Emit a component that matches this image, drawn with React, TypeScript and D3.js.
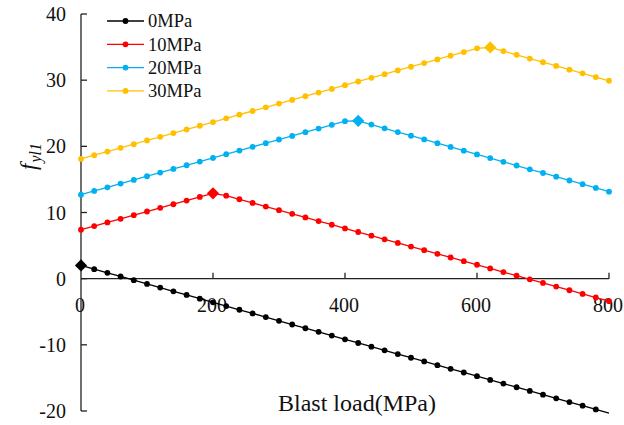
import React from "react";
import * as d3 from "d3";

// Blast load sampled every 20 MPa from 0 to 800
const blastLoad: number[] = d3.range(0, 801, 20);

const series0MPa: number[] = [
  2.0, 1.44, 0.88, 0.33, -0.23, -0.79, -1.35, -1.91, -2.46, -3.02,
  -3.58, -4.14, -4.7, -5.25, -5.81, -6.37, -6.93, -7.49, -8.04, -8.6,
  -9.16, -9.72, -10.28, -10.83, -11.39, -11.95, -12.51, -13.07, -13.62, -14.18,
  -14.74, -15.3, -15.86, -16.41, -16.97, -17.53, -18.09, -18.65, -19.2, -19.76,
  -20.32,
];

const series10MPa: number[] = [
  7.4, 7.95, 8.5, 9.05, 9.6, 10.15, 10.7, 11.25, 11.8, 12.35,
  12.9, 12.55, 12.0, 11.45, 10.9, 10.35, 9.8, 9.25, 8.7, 8.15,
  7.6, 7.05, 6.5, 5.95, 5.4, 4.85, 4.3, 3.75, 3.2, 2.65,
  2.1, 1.55, 1.0, 0.45, -0.1, -0.65, -1.2, -1.75, -2.3, -2.85,
  -3.4,
];

const series20MPa: number[] = [
  12.7, 13.26, 13.81, 14.37, 14.92, 15.48, 16.03, 16.59, 17.14, 17.7,
  18.25, 18.81, 19.36, 19.92, 20.47, 21.03, 21.58, 22.14, 22.69, 23.25,
  23.8, 23.85, 23.29, 22.72, 22.16, 21.6, 21.04, 20.47, 19.91, 19.35,
  18.78, 18.22, 17.66, 17.1, 16.53, 15.97, 15.41, 14.84, 14.28, 13.72,
  13.15,
];

const series30MPa: number[] = [
  18.1, 18.66, 19.21, 19.77, 20.33, 20.89, 21.44, 22.0, 22.56, 23.11,
  23.67, 24.23, 24.78, 25.34, 25.9, 26.46, 27.01, 27.57, 28.13, 28.68,
  29.24, 29.8, 30.35, 30.91, 31.47, 32.03, 32.58, 33.14, 33.7, 34.25,
  34.81, 34.95, 34.39, 33.83, 33.27, 32.71, 32.15, 31.59, 31.03, 30.47,
  29.91,
];

const seriesNames: string[] = ["0MPa", "10MPa", "20MPa", "30MPa"];
const seriesValues: number[][] = [series0MPa, series10MPa, series20MPa, series30MPa];
const seriesColors: string[] = ["#000000", "#FF0000", "#00B0F0", "#FFC000"];

const xTicks: number[] = [0, 200, 400, 600, 800];
const yTicks: number[] = [-20, -10, 0, 10, 20, 30, 40];

const W = 624;
const H = 425;
const txt = { fontFamily: "Liberation Serif" };

export default function App() {
  const x = d3.scaleLinear().domain([0, 800]).range([81, 609]);
  const y = d3.scaleLinear().domain([-20, 40]).range([411, 14]);

  const line = d3
    .line<[number, number]>()
    .x((d) => x(d[0]))
    .y((d) => y(d[1]));

  const diamond = d3.symbol().type(d3.symbolDiamond2).size(95)();

  return (
    <svg
      width={W}
      height={H}
      style={{ position: "absolute", left: 0, top: 0, background: "#fff" }}
    >
      {/* y axis */}
      <line x1={x(0)} x2={x(0)} y1={y(40)} y2={y(-20)} stroke="#222" strokeWidth={1.3} />
      {yTicks.map((t) => (
        <g key={"y" + t}>
          <line x1={x(0)} x2={x(0) + 6} y1={y(t)} y2={y(t)} stroke="#222" strokeWidth={1.3} />
          <text x={66} y={y(t)} dy="0.35em" textAnchor="end" fontSize={20} fill="#111" style={txt}>
            {t}
          </text>
        </g>
      ))}

      {/* x axis through zero */}
      <line x1={x(0)} x2={x(800)} y1={y(0)} y2={y(0)} stroke="#222" strokeWidth={1.3} />
      {xTicks.map((t) => (
        <g key={"x" + t}>
          {t > 0 && (
            <line x1={x(t)} x2={x(t)} y1={y(0)} y2={y(0) - 6} stroke="#222" strokeWidth={1.3} />
          )}
          <text x={x(t) - 1} y={312} textAnchor="middle" fontSize={20} fill="#111" style={txt}>
            {t}
          </text>
        </g>
      ))}

      {/* axis titles */}
      <text x={357} y={411} textAnchor="middle" fontSize={24} fill="#111" style={txt}>
        Blast load(MPa)
      </text>
      <text
        transform="translate(36,170) rotate(-90)"
        fontSize={23}
        fill="#111"
        fontStyle="italic"
        style={txt}
      >
        f
        <tspan fontSize={16} dy={5} dx={1}>
          yl1
        </tspan>
      </text>

      {/* series */}
      {seriesValues.map((vals, i) => {
        const pts: [number, number][] = blastLoad.map((b, j) => [b, vals[j]]);
        const peakIdx = d3.maxIndex(vals);
        return (
          <g key={seriesNames[i]}>
            <path d={line(pts) ?? ""} fill="none" stroke={seriesColors[i]} strokeWidth={1.3} />
            {pts
              .filter((p, j) => j !== peakIdx && p[1] >= -20)
              .map((p, j) => (
                <circle key={j} cx={x(p[0])} cy={y(p[1])} r={2.9} fill={seriesColors[i]} />
              ))}
            <path
              d={diamond ?? ""}
              transform={`translate(${x(pts[peakIdx][0])},${y(pts[peakIdx][1])})`}
              fill={seriesColors[i]}
            />
          </g>
        );
      })}

      {/* legend */}
      {seriesNames.map((name, i) => {
        const ly = 21 + i * 23.3;
        return (
          <g key={"lg" + name}>
            <line x1={107} x2={144} y1={ly} y2={ly} stroke={seriesColors[i]} strokeWidth={1.3} />
            <circle cx={125.5} cy={ly} r={2.9} fill={seriesColors[i]} />
            <text x={148} y={ly} dy="0.35em" fontSize={18.5} fill="#111" style={txt}>
              {name}
            </text>
          </g>
        );
      })}
    </svg>
  );
}
